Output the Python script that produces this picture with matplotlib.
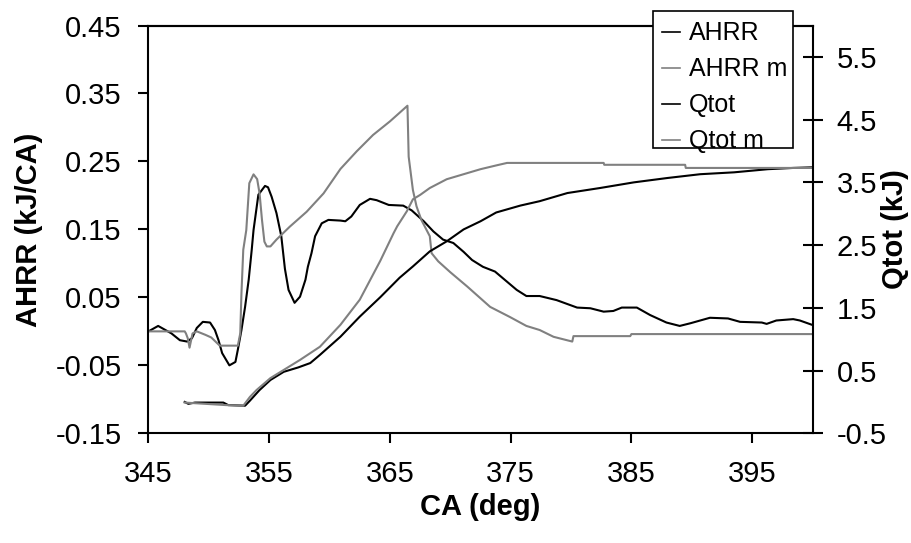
import matplotlib
matplotlib.use("Agg")
import matplotlib.pyplot as plt
from matplotlib.patches import Rectangle
from matplotlib.ticker import FormatStrFormatter, FixedLocator

plt.rcParams["font.family"] = ["Liberation Sans", "DejaVu Sans"]
plt.rcParams["axes.unicode_minus"] = False

# Apparent heat release rate (kJ/CA) vs crank angle
ahrr_ca = [345.0, 345.8, 346.9, 347.6, 348.2, 348.6, 349.0, 349.5, 350.1, 350.5,
           350.8, 351.1, 351.7, 352.2, 352.4, 352.7, 353.0, 353.3, 353.55, 353.7,
           354.1, 354.65, 354.9, 355.2, 355.6, 356.0, 356.3, 356.6, 357.1, 357.55,
           358.0, 358.2, 358.5, 358.8, 359.35, 359.9, 360.9, 361.3, 361.8, 362.5,
           363.35, 363.9, 364.9, 366.1, 366.8, 367.8, 368.6, 369.4, 370.25, 371.1,
           371.8, 372.7, 373.7, 374.7, 375.5, 376.3, 377.4, 378.8, 380.5, 381.6,
           382.7, 383.5, 384.2, 385.45, 386.55, 387.9, 389.0, 389.9, 391.5, 393.0,
           394.0, 395.8, 396.2, 397.0, 398.4, 398.95, 399.9]
ahrr = [0.000, 0.008, -0.003, -0.013, -0.015, -0.010, 0.005, 0.014, 0.013, 0.002,
        -0.013, -0.032, -0.050, -0.045, -0.027, 0.002, 0.036, 0.076, 0.120, 0.149,
        0.201, 0.214, 0.212, 0.198, 0.174, 0.140, 0.092, 0.061, 0.042, 0.051,
        0.076, 0.095, 0.115, 0.140, 0.159, 0.164, 0.163, 0.162, 0.169, 0.186,
        0.195, 0.193, 0.186, 0.185, 0.178, 0.162, 0.147, 0.135, 0.130, 0.117,
        0.105, 0.095, 0.088, 0.073, 0.061, 0.052, 0.052, 0.046, 0.035, 0.034,
        0.029, 0.030, 0.035, 0.035, 0.024, 0.013, 0.008, 0.012, 0.020, 0.019,
        0.014, 0.013, 0.011, 0.016, 0.018, 0.016, 0.010]

# Modelled heat release rate
ahrr_m_ca = [345.0, 348.0, 348.1, 348.25, 348.4, 348.65, 349.0, 349.7, 350.2, 350.9,
             352.4, 352.6, 352.7, 352.85, 353.1, 353.35, 353.7, 354.0, 354.2, 354.4,
             354.6, 354.8, 355.1, 355.6, 356.7, 358.1, 359.5, 360.9, 362.25, 363.6,
             365.0, 366.45, 366.55, 366.9, 367.2, 367.6, 368.3, 368.45, 369.0, 370.0,
             371.4, 373.3, 374.95, 376.3, 377.4, 378.55, 380.1, 380.2, 384.9, 385.0,
             400.0]
ahrr_m = [0.000, 0.000, -0.003, -0.010, -0.024, -0.003, 0.000, -0.005, -0.009, -0.021,
          -0.021, -0.003, 0.056, 0.120, 0.149, 0.218, 0.231, 0.224, 0.203, 0.164,
          0.132, 0.125, 0.125, 0.135, 0.154, 0.176, 0.203, 0.239, 0.265, 0.289,
          0.309, 0.332, 0.257, 0.208, 0.184, 0.164, 0.140, 0.115, 0.103, 0.087,
          0.066, 0.036, 0.021, 0.008, 0.002, -0.008, -0.015, -0.007, -0.007, -0.004,
          -0.004]

# Cumulative heat release (kJ)
qtot_ca = [348.0, 348.3, 348.85, 351.2, 351.6, 353.0, 353.4, 354.2, 355.1, 356.2,
           357.4, 358.4, 359.2, 360.9, 362.5, 364.2, 365.8, 366.9, 368.3, 369.7,
           371.1, 372.5, 373.8, 375.8, 377.4, 379.7, 382.4, 385.2, 388.0, 390.7,
           393.5, 396.3, 398.4, 400.0]
qtot = [0.00, -0.03, -0.01, -0.01, -0.05, -0.06, 0.02, 0.19, 0.35, 0.48,
        0.55, 0.62, 0.75, 1.04, 1.36, 1.67, 1.98, 2.16, 2.40, 2.56,
        2.75, 2.88, 3.02, 3.13, 3.20, 3.33, 3.41, 3.50, 3.57, 3.63,
        3.66, 3.71, 3.73, 3.74]

# Modelled cumulative heat release
qtot_m_ca = [348.0, 351.4, 352.85, 353.4, 353.95, 355.1, 356.2, 357.55, 359.2, 360.9,
             362.5, 364.2, 365.3, 365.6, 366.4, 366.9, 367.5, 368.3, 369.7, 371.1,
             372.5, 373.8, 374.7, 382.7, 382.75, 389.45, 389.5, 400.0]
qtot_m = [-0.01, -0.05, -0.06, 0.08, 0.19, 0.38, 0.51, 0.67, 0.88, 1.23,
          1.63, 2.25, 2.69, 2.80, 3.04, 3.23, 3.30, 3.41, 3.55, 3.63,
          3.71, 3.77, 3.81, 3.81, 3.78, 3.78, 3.73, 3.73]

x_ticks = [345, 355, 365, 375, 385, 395]
left_ticks = [-0.15, -0.05, 0.05, 0.15, 0.25, 0.35, 0.45]
right_ticks = [-0.5, 0.5, 1.5, 2.5, 3.5, 4.5, 5.5]

GRAY = "#808080"
FS = 21
W, H = 911, 543

fig = plt.figure(figsize=(W / 100, H / 100), dpi=100)
ax = fig.add_axes([0.1630, 0.2020, 0.7289, 0.7510])
ax2 = ax.twinx()

l1, = ax.plot(ahrr_ca, ahrr, color="black", lw=1.5, label="AHRR")
l2, = ax.plot(ahrr_m_ca, ahrr_m, color=GRAY, lw=1.5, label="AHRR m")
l3, = ax2.plot(qtot_ca, qtot, color="black", lw=1.5, label="Qtot")
l4, = ax2.plot(qtot_m_ca, qtot_m, color=GRAY, lw=1.5, label="Qtot m")

ax.set_xlim(345, 400)
ax.set_ylim(-0.15, 0.45)
ax2.set_ylim(-0.5, 6.0)

ax.xaxis.set_major_locator(FixedLocator(x_ticks))
ax.yaxis.set_major_locator(FixedLocator(left_ticks))
ax.yaxis.set_major_formatter(FormatStrFormatter("%.2f"))
ax2.yaxis.set_major_locator(FixedLocator(right_ticks))
ax2.yaxis.set_major_formatter(FormatStrFormatter("%.1f"))

for a in (ax, ax2):
    for s in a.spines.values():
        s.set_linewidth(1.5)
        s.set_color("black")
ax.spines["right"].set_visible(False)
ax2.spines["left"].set_visible(False)
ax2.spines["bottom"].set_visible(False)

ax.tick_params(axis="x", direction="out", length=7.2, width=1.5, pad=12, labelsize=FS)
ax.tick_params(axis="y", direction="out", length=7.2, width=1.5, pad=12, labelsize=FS)
ax2.tick_params(axis="y", direction="inout", length=15, width=1.5, pad=10, labelsize=FS)

ax.set_xlabel("CA (deg)", fontsize=FS, fontweight="bold", va="center")
ax.xaxis.set_label_coords(0.5, -0.18)
ax.set_ylabel("AHRR (kJ/CA)", fontsize=FS, fontweight="bold", va="center")
ax.yaxis.set_label_coords(-0.1807, 0.5)
ax2.set_ylabel("Qtot (kJ)", fontsize=FS, fontweight="bold", va="center", rotation=90)
ax2.yaxis.set_label_coords(1.124, 0.5)

# Legend box: white panel with a thin black border, entries drawn on top
legend_box = Rectangle((653.3 / W, 1 - 148.3 / H), 140.0 / W, 137.6 / H,
                       transform=fig.transFigure, facecolor="white",
                       edgecolor="black", linewidth=1.2, zorder=4)
fig.patches.append(legend_box)

leg = fig.legend([l1, l2, l3, l4], ["AHRR", "AHRR m", "Qtot", "Qtot m"],
                 loc="upper left", bbox_to_anchor=(653.3 / W, 1 - 13.0 / H),
                 bbox_transform=fig.transFigure, borderaxespad=0,
                 fontsize=18, handlelength=0.75, handletextpad=0.33,
                 borderpad=0.33, labelspacing=0.48, frameon=False)
leg.set_zorder(5)
for h in leg.legend_handles:
    h.set_linewidth(1.2)

fig.savefig("out.png", dpi=100)
